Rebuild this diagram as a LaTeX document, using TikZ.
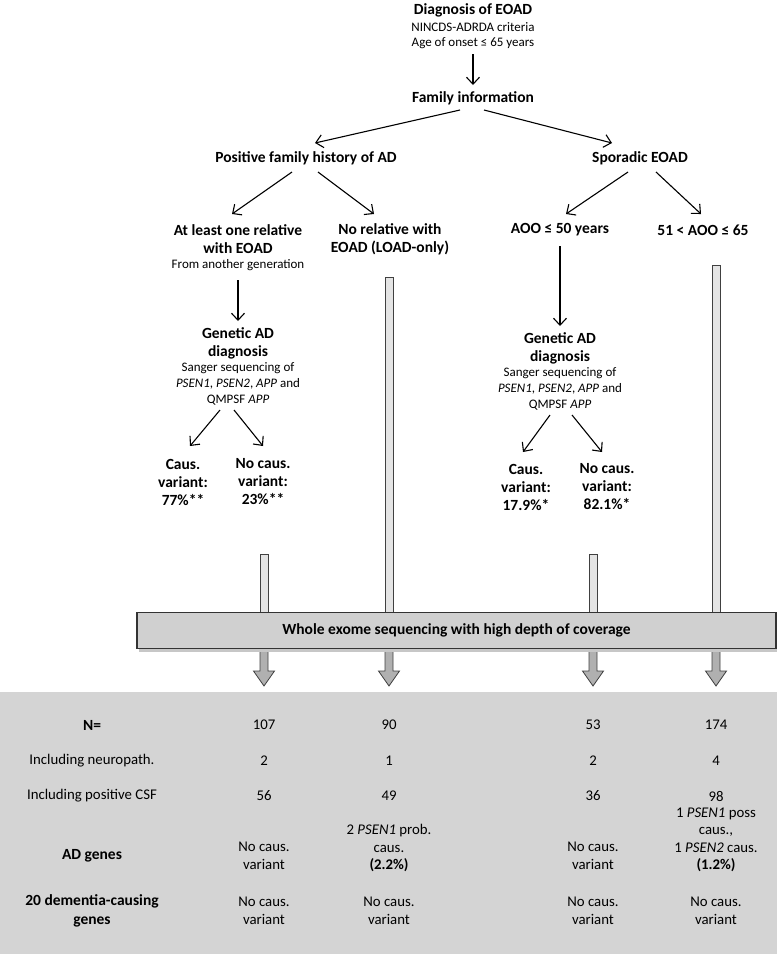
\documentclass[tikz,border=0pt]{standalone}
\usepackage{fontspec}
\setmainfont{Carlito}
\usetikzlibrary{arrows.meta}
\definecolor{tablebg}{HTML}{D4D4D4}
\definecolor{boxfill}{HTML}{D0D0D0}
\definecolor{bartop}{HTML}{E4E4E4}
\definecolor{barbot}{HTML}{B0B0B0}
\tikzset{
  bt/.style={font=\bfseries\fontsize{15.5}{18}\selectfont, align=center, inner sep=0pt},
  sm/.style={font=\fontsize{13}{15.7}\selectfont, align=center, inner sep=0pt},
  tb/.style={font=\fontsize{14.8}{17.5}\selectfont, align=center, inner sep=0pt},
  tbb/.style={font=\bfseries\fontsize{15.5}{18.5}\selectfont, align=center, inner sep=0pt},
  arr/.style={line width=1.1pt, -{Straight Barb[length=7pt,width=13pt]}},
  fatline/.style={draw=black!75, line width=0.8pt},
}
\begin{document}
\begin{tikzpicture}[x=1pt,y=-1pt]
\useasboundingbox (0,0) rectangle (777,954);
\fill[tablebg] (0,692) rectangle (777,954);

% top part
\node[bt] (diag) at (473,10) {Diagnosis of EOAD};
\node[sm] (crit) at (473,27) {NINCDS-ADRDA criteria};
\node[sm] (age) at (473,43) {Age of onset ≤ 65 years};
\node[bt] (fam) at (473,98) {Family information};
\coordinate (a1) at (473,54);
\coordinate (a2) at (473,85);
\draw[arr] (a1) -- (a2);
\coordinate (famL) at (460,110);
\coordinate (famR) at (484,110);
\node[bt] (pos) at (306,158) {Positive family history of AD};
\node[bt] (spor) at (640,158) {Sporadic EOAD};
\coordinate (posT) at (315,143);
\coordinate (sporT) at (612,143);
\draw[arr] (famL) -- (posT);
\draw[arr] (famR) -- (sporT);

\node[bt] (atl) at (238,239) {At least one relative\\with EOAD};
\node[sm] (from) at (238,265) {From another generation};
\node[bt] (norel) at (390,239) {No relative with\\EOAD (LOAD-only)};
\node[bt] (aoo50) at (560,230) {AOO ≤ 50 years};
\node[bt] (aoo65) at (703,230) {51 < AOO ≤ 65};
\draw[arr] (292,172) -- (232,214);
\draw[arr] (318,172) -- (374,214);
\draw[arr] (628,172) -- (566,214);
\draw[arr] (656,172) -- (701,214);

% left genetic diagnosis
\node[bt] (gen1) at (238,343.5) {Genetic AD\\diagnosis};
\node[sm] (san1) at (238,384) {Sanger sequencing of\\\textit{PSEN1}, \textit{PSEN2}, \textit{APP} and\\QMPSF \textit{APP}};
\draw[arr] (238,280) -- (238,321);
\node[bt] (caus1) at (183,482) {Caus.\\variant:\\77\%**};
\node[bt] (nocaus1) at (263,482) {No caus.\\variant:\\23\%**};
\draw[arr] (220,410) -- (190,446);
\draw[arr] (234,410) -- (263,446);

% right genetic diagnosis
\node[bt] (gen2) at (560,348.5) {Genetic AD\\diagnosis};
\node[sm] (san2) at (560,389) {Sanger sequencing of\\\textit{PSEN1}, \textit{PSEN2}, \textit{APP} and\\QMPSF \textit{APP}};
\draw[arr] (560,246) -- (560,326);
\node[bt] (caus2) at (526,487) {Caus.\\variant:\\17.9\%*};
\node[bt] (nocaus2) at (607,487) {No caus.\\variant:\\82.1\%*};
\draw[arr] (550,415) -- (523,452);
\draw[arr] (572,415) -- (602,452);

% fat arrows
\foreach \x/\yt in {264/554, 389/277, 593/554, 716/265}{
  \draw[fatline, fill=bartop] (\x-4,\yt) rectangle (\x+4,612);
  \draw[fatline, fill=barbot] (\x-4,649) -- (\x-4,671) -- (\x-10.5,671) -- (\x,686) -- (\x+10.5,671) -- (\x+4,671) -- (\x+4,649) -- cycle;
}
\fill[black!22] (139,615) rectangle (779,652);
\node[draw=black!80, line width=1.4pt, fill=boxfill, minimum width=639pt, minimum height=36pt, inner sep=0pt, font=\bfseries\fontsize{15.5}{18}\selectfont] (wes) at (456.5,630.5) {Whole exome sequencing with high depth of coverage};

% table
\node[tbb] (lN) at (92,725) {N=};
\node[tb] (lNeu) at (92,761) {Including neuropath.};
\node[tb] (lCSF) at (92,796) {Including positive CSF};
\node[tbb] (lAD) at (92,856) {AD genes};
\node[tbb] (lDem) at (92,911) {20 dementia-causing\\genes};

\node[tb] (n1) at (264,725) {107};
\node[tb] (n2) at (389,725) {90};
\node[tb] (n3) at (593,725) {53};
\node[tb] (n4) at (716,725) {174};
\node[tb] (p1) at (264,761) {2};
\node[tb] (p2) at (389,761) {1};
\node[tb] (p3) at (593,761) {2};
\node[tb] (p4) at (716,761) {4};
\node[tb] (c1) at (264,796) {56};
\node[tb] (c2) at (389,796) {49};
\node[tb] (c3) at (593,796) {36};
\node[tb] (c4) at (716,796) {98};
\node[tb] (g1) at (264,856) {No caus.\\variant};
\node[tb] (g2) at (389,848) {2 \textit{PSEN1} prob.\\caus.\\\textbf{(2.2\%)}};
\node[tb] (g3) at (593,856) {No caus.\\variant};
\node[tb] (g4) at (716,840) {1 \textit{PSEN1} poss\\caus.,\\1 \textit{PSEN2} caus.\\\textbf{(1.2\%)}};
\node[tb] (d1) at (264,911) {No caus.\\variant};
\node[tb] (d2) at (389,911) {No caus.\\variant};
\node[tb] (d3) at (593,911) {No caus.\\variant};
\node[tb] (d4) at (716,911) {No caus.\\variant};
\end{tikzpicture}
\end{document}
